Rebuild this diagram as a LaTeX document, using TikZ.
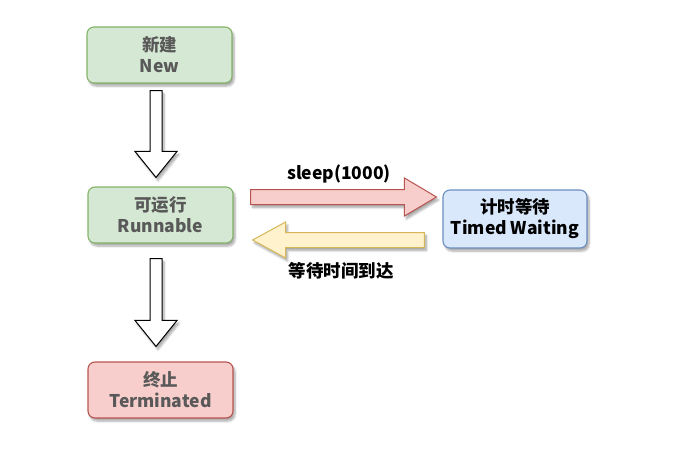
\documentclass[tikz,border=0pt]{standalone}
\usepackage{fontspec}
\setmainfont{Noto Sans CJK SC}
\usetikzlibrary{calc,shadows.blur}
\definecolor{gfill}{HTML}{D5E8D4}\definecolor{gline}{HTML}{82B366}
\definecolor{rfill}{HTML}{F8CECC}\definecolor{rline}{HTML}{B85450}
\definecolor{bfill}{HTML}{DAE8FC}\definecolor{bline}{HTML}{6C8EBF}
\definecolor{yfill}{HTML}{FFF2CC}\definecolor{yline}{HTML}{D6B656}
\definecolor{boxtext}{HTML}{595959}
\begin{document}
\begin{tikzpicture}[x=1pt,y=-1pt,
  shad/.style={blur shadow={shadow xshift=2pt,shadow yshift=-3pt,shadow blur steps=6,shadow opacity=35}},
  box/.style={draw, rounded corners=7pt, minimum width=145pt, minimum height=56pt, align=center,
    font=\bfseries\fontsize{17.5}{21}\selectfont, line width=1.1pt, inner sep=1pt, shad},
  greenbox/.style={box, fill=gfill, draw=gline, text=boxtext},
  redbox/.style={box, fill=rfill, draw=rline, text=boxtext},
  bluebox/.style={box, fill=bfill, draw=bline, text=black, minimum width=144pt, minimum height=58pt},
  downarrow/.style={draw=black, fill=white, line width=1pt, line join=miter, shad},
  redarrow/.style={draw=rline, fill=rfill, line width=1pt, shad},
  yelarrow/.style={draw=yline, fill=yfill, line width=1pt, shad},
  lbl/.style={font=\bfseries\fontsize{17.5}{20}\selectfont, text=black}]
\useasboundingbox (0,0) rectangle (691,460);
\node[greenbox] (new) at (159.5,55) {新建\\New};
\node[greenbox] (run) at (160.5,215) {可运行\\Runnable};
\node[redbox] (term) at (160.5,390) {终止\\Terminated};
\node[bluebox] (timed) at (515,219) {计时等待\\Timed Waiting};
% down arrows
\coordinate (a1s) at ($(new.south)+(-3.5,7)$);
\coordinate (a1e) at ($(a1s |- run.north)+(0,-9)$);
\draw[downarrow] ($(a1s)+(-6,0)$) -- ($(a1s)+(6,0)$) -- ($(a1e)+(6,-26)$) -- ($(a1e)+(21,-26)$)
  -- (a1e) -- ($(a1e)+(-21,-26)$) -- ($(a1e)+(-6,-26)$) -- cycle;
\coordinate (a2s) at ($(run.south)+(-4.5,15)$);
\coordinate (a2e) at ($(a2s |- term.north)+(0,-15)$);
\draw[downarrow] ($(a2s)+(-6,0)$) -- ($(a2s)+(6,0)$) -- ($(a2e)+(6,-26)$) -- ($(a2e)+(21,-26)$)
  -- (a2e) -- ($(a2e)+(-21,-26)$) -- ($(a2e)+(-6,-26)$) -- cycle;
% red arrow
\coordinate (r1) at ($(run.east)+(17,-18)$);
\coordinate (r2) at ($(r1 -| timed.west)+(-6,0)$);
\draw[redarrow] ($(r1)+(0,-7.5)$) -- ($(r2)+(-32,-7.5)$) -- ($(r2)+(-32,-19)$) -- (r2)
  -- ($(r2)+(-32,19)$) -- ($(r2)+(-32,7.5)$) -- ($(r1)+(0,7.5)$) -- cycle;
% yellow arrow
\coordinate (y1) at ($(timed.west)+(-18,21)$);
\coordinate (y2) at ($(y1 -| run.east)+(19,0)$);
\draw[yelarrow] ($(y1)+(0,-7.5)$) -- ($(y2)+(33,-7.5)$) -- ($(y2)+(33,-18)$) -- (y2)
  -- ($(y2)+(33,18)$) -- ($(y2)+(33,7.5)$) -- ($(y1)+(0,7.5)$) -- cycle;
\node[lbl] (sl) at (339,174) {sleep(1000)};
\node[lbl] (wt) at (341,271) {等待时间到达};
\end{tikzpicture}
\end{document}
